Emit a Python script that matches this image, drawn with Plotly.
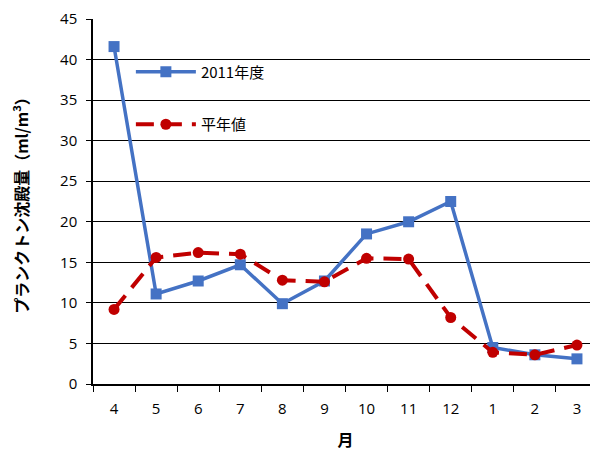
import plotly.graph_objects as go

months = ["4", "5", "6", "7", "8", "9", "10", "11", "12", "1", "2", "3"]
y2011 = [41.6, 11.1, 12.7, 14.7, 9.9, 12.7, 18.5, 20.0, 22.5, 4.5, 3.6, 3.1]
normal = [9.2, 15.6, 16.2, 16.0, 12.8, 12.6, 15.5, 15.4, 8.2, 3.9, 3.6, 4.8]
y_ticks = [0, 5, 10, 15, 20, 25, 30, 35, 40, 45]

FONT = "Open Sans, Noto Sans CJK JP"
CJK = "Noto Sans CJK JP"

fig = go.Figure()
fig.add_trace(go.Scatter(
    x=months, y=y2011, name="2011年度", mode="lines+markers",
    line=dict(color="#4472C4", width=3.5),
    marker=dict(symbol="square", size=11, color="#4472C4"),
    legendgroup="a",
))
fig.add_trace(go.Scatter(
    x=months, y=normal, name="平年値", mode="lines+markers",
    line=dict(color="#C00000", width=4, dash="18px,10px"),
    marker=dict(symbol="circle", size=11, color="#C00000"),
    legendgroup="b",
))

fig.update_layout(
    width=590, height=443,
    margin=dict(l=85, r=0, t=11, b=67),
    paper_bgcolor="white", plot_bgcolor="white",
    font=dict(family=FONT, size=14, color="#000000"),
    showlegend=True,
    legend=dict(
        x=0.075, y=0.9, xanchor="left", yanchor="top",
        bgcolor="rgba(0,0,0,0)", tracegroupgap=30, itemwidth=60,
        font=dict(family=CJK, size=15),
    ),
    xaxis=dict(
        type="category", categoryorder="array", categoryarray=months,
        range=[-0.5, len(months) - 0.5],
        automargin=False,
        showline=True, linecolor="#000000", linewidth=1.5,
        ticks="outside", tickson="boundaries", ticklen=6, tickcolor="#000000",
        ticklabelstandoff=10,
        showgrid=False,
        title=dict(text="<b>月</b>", font=dict(family=CJK, size=16), standoff=23),
        tickfont=dict(family=FONT, size=15),
    ),
    yaxis=dict(
        range=[0, 45], tickvals=y_ticks,
        automargin=False,
        showline=True, linecolor="#000000", linewidth=1.5,
        ticks="outside", ticklen=5, tickcolor="#000000",
        ticklabelstandoff=6,
        showgrid=True, gridcolor="#000000", gridwidth=1,
        zeroline=False,
        title=dict(text="<b>プランクトン沈殿量（ml/m<sup>3</sup>）</b>", font=dict(family=CJK, size=16), standoff=31),
        tickfont=dict(family=FONT, size=15),
    ),
)

fig.write_html("out.html")
